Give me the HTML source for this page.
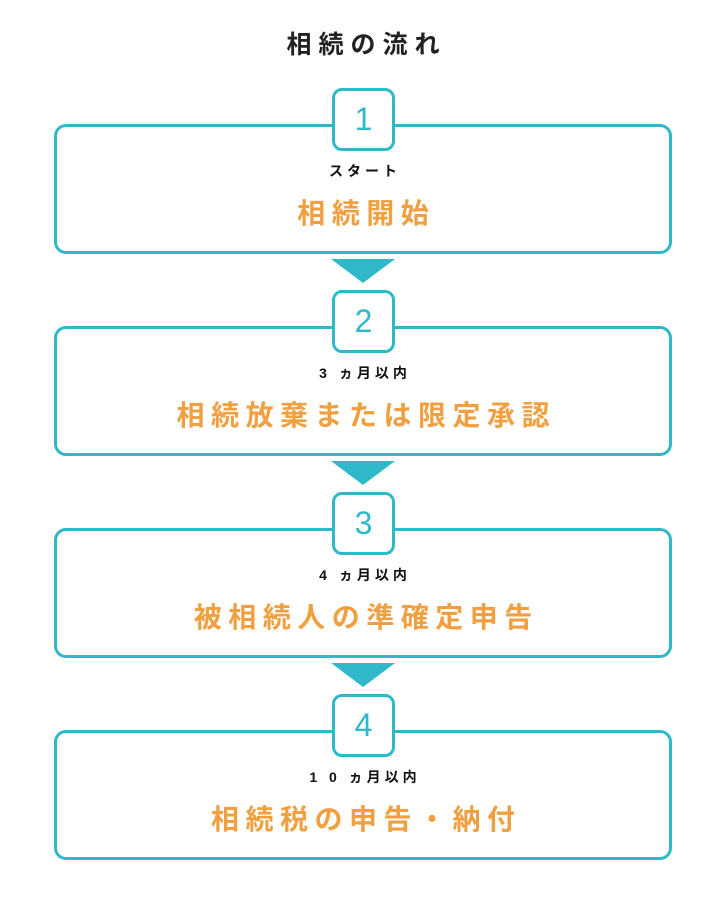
<!DOCTYPE html>
<html><head><meta charset="utf-8"><style>
body{margin:0;width:726px;height:900px;background:#fff;position:relative;font-family:"Liberation Sans","Noto Sans CJK JP",sans-serif;overflow:hidden}
.t{position:absolute;left:0;width:726px;text-align:center;top:25px;font-size:25px;font-weight:bold;color:#222;letter-spacing:7px;text-indent:7px}
.box{position:absolute;left:54px;width:612px;height:124px;border:3px solid #2fb8c8;border-radius:12px;background:#fff}
.num{position:absolute;left:332px;width:57px;height:57px;border:3px solid #2fb8c8;border-radius:10px;background:#fff;color:#2fb8c8;font-size:32px;text-align:center;line-height:57px}
.sub{position:absolute;left:0;width:726px;text-align:center;font-size:14px;font-weight:bold;color:#111;letter-spacing:4px;text-indent:4px}
.main{position:absolute;left:0;width:726px;text-align:center;font-size:28px;font-weight:bold;color:#f0a040;letter-spacing:6.5px;text-indent:6.5px}
.arr{position:absolute;left:331px;width:0;height:0;border-left:32px solid transparent;border-right:32px solid transparent;border-top:24px solid #2fb8c8}
</style></head><body>
<div class="t">相続の流れ</div>

<div class="box" style="top:124px"></div><div class="num" style="top:88px">1</div>
<div class="sub" style="top:161px">スタート</div><div class="main" style="top:192px">相続開始</div>
<div class="arr" style="top:259px"></div>

<div class="box" style="top:326px"></div><div class="num" style="top:290px">2</div>
<div class="sub" style="top:363px">3 ヵ月以内</div><div class="main" style="top:394px">相続放棄または限定承認</div>
<div class="arr" style="top:461px"></div>

<div class="box" style="top:528px"></div><div class="num" style="top:492px">3</div>
<div class="sub" style="top:565px">4 ヵ月以内</div><div class="main" style="top:596px">被相続人の準確定申告</div>
<div class="arr" style="top:663px"></div>

<div class="box" style="top:730px"></div><div class="num" style="top:694px">4</div>
<div class="sub" style="top:767px">1 0 ヵ月以内</div><div class="main" style="top:798px">相続税の申告・納付</div>
</body></html>
